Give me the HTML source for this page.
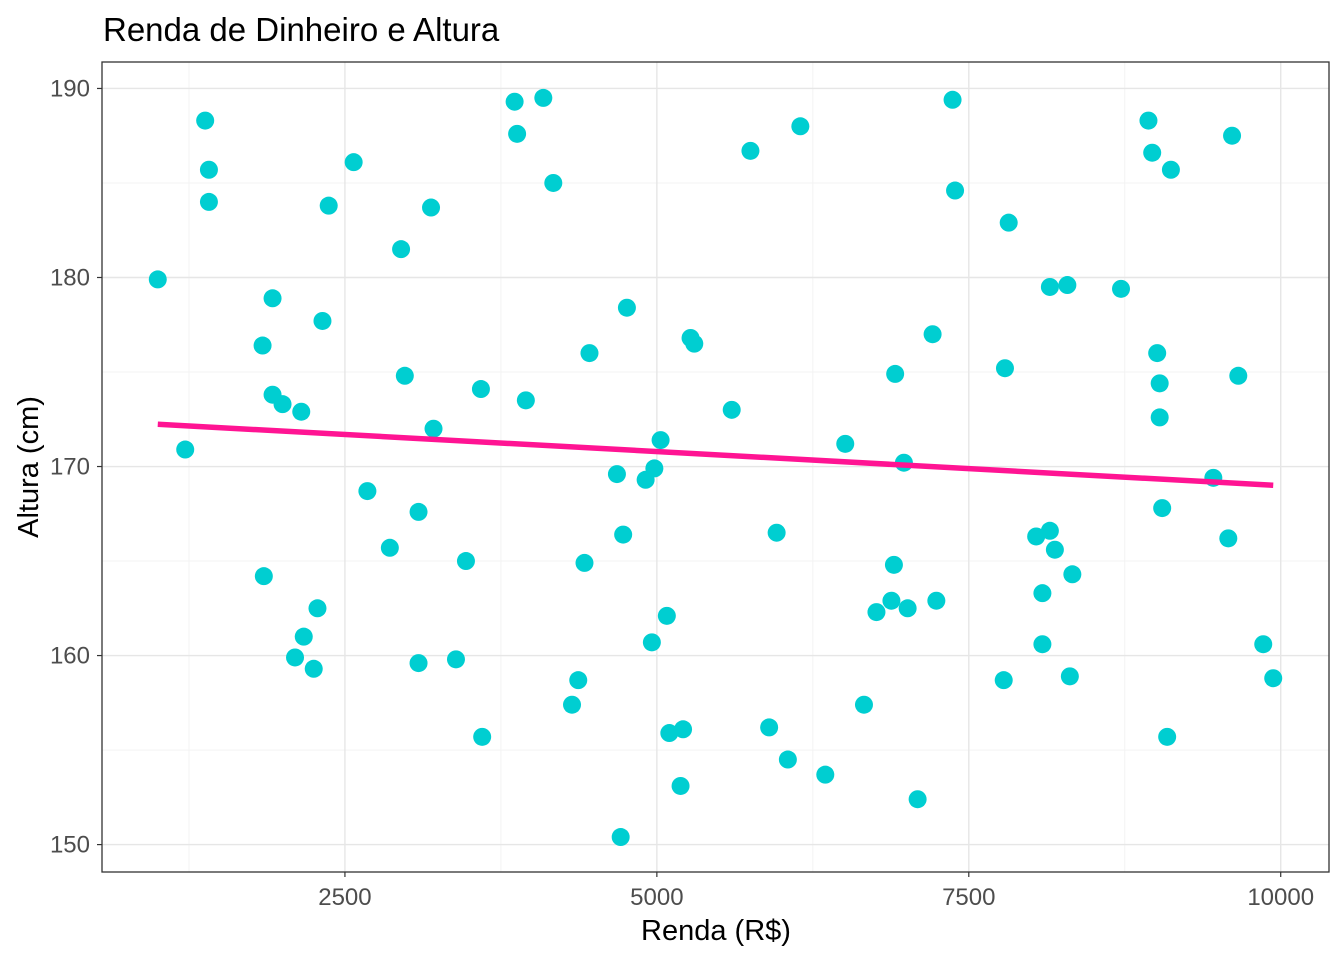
<!DOCTYPE html>
<html><head><meta charset="utf-8"><style>
body{margin:0;background:#fff;}
svg text{font-family:"Liberation Sans",Arial,sans-serif;}
</style></head><body>
<svg id="chart" width="1344" height="960" xmlns="http://www.w3.org/2000/svg">
<rect width="1344" height="960" fill="#fff"/>
<text x="103" y="41" font-size="33" fill="#000">Renda de Dinheiro e Altura</text>
<g id="grid"></g>
<g id="marks"></g>
<rect x="102" y="62" width="1227" height="810" fill="none" stroke="#333" stroke-width="1.3"/>
<g id="ticks"></g>
<text x="716" y="940" font-size="29" text-anchor="middle" fill="#000">Renda (R$)</text>
<text transform="translate(38,467) rotate(-90)" font-size="29" text-anchor="middle" fill="#000">Altura (cm)</text>
</svg>
<script>
const renda=[1000,1220,1380,1410,1410,1840,1850,1920,1920,2000,2100,2150,2170,2250,2280,2320,2370,2570,2680,2860,2950,2980,3090,3090,3190,3210,3390,3470,3590,3600,3860,3880,3950,4090,4170,4320,4370,4420,4460,4680,4710,4730,4760,4910,4960,4980,5030,5080,5100,5190,5210,5270,5300,5600,5750,5900,5960,6050,6150,6350,6510,6660,6760,6880,6900,6910,6980,7010,7090,7210,7240,7370,7390,7780,7790,7820,8040,8090,8090,8150,8150,8190,8290,8310,8330,8720,8940,8970,9010,9030,9030,9050,9090,9120,9460,9580,9610,9660,9860,9940];
const altura=[179.9,170.9,188.3,185.7,184.0,176.4,164.2,178.9,173.8,173.3,159.9,172.9,161.0,159.3,162.5,177.7,183.8,186.1,168.7,165.7,181.5,174.8,167.6,159.6,183.7,172.0,159.8,165.0,174.1,155.7,189.3,187.6,173.5,189.5,185.0,157.4,158.7,164.9,176.0,169.6,150.4,166.4,178.4,169.3,160.7,169.9,171.4,162.1,155.9,153.1,156.1,176.8,176.5,173.0,186.7,156.2,166.5,154.5,188.0,153.7,171.2,157.4,162.3,162.9,164.8,174.9,170.2,162.5,152.4,177.0,162.9,189.4,184.6,158.7,175.2,182.9,166.3,163.3,160.6,166.6,179.5,165.6,179.6,158.9,164.3,179.4,188.3,186.6,176.0,174.4,172.6,167.8,155.7,185.7,169.4,166.2,187.5,174.8,160.6,158.8];
const xTicks=[2500,5000,7500,10000];
const xMinor=[1250,3750,6250,8750];
const yTicks=[150,160,170,180,190];
const yMinor=[155,165,175,185];
const NS="http://www.w3.org/2000/svg";
const L=102,R=1329,T=62,B=872;
const xd=[553,10387], yd=[148.55,191.4];
const X=v=>L+(v-xd[0])/(xd[1]-xd[0])*(R-L);
const Y=v=>B-(v-yd[0])/(yd[1]-yd[0])*(B-T);
function mk(tag,attrs,parent){const e=document.createElementNS(NS,tag);for(const k in attrs)e.setAttribute(k,attrs[k]);parent.appendChild(e);return e;}
const grid=document.getElementById('grid'),marks=document.getElementById('marks'),ticks=document.getElementById('ticks');
mk('rect',{x:L,y:T,width:R-L,height:B-T,fill:'#fff'},grid);
xMinor.forEach(v=>{const e=mk('line',{x1:X(v),x2:X(v),y1:T,y2:B,stroke:'#F3F3F3','stroke-width':1},grid);

});
yMinor.forEach(v=>{const e=mk('line',{x1:L,x2:R,y1:Y(v),y2:Y(v),stroke:'#F3F3F3','stroke-width':1},grid);

});
xTicks.forEach(v=>{const e=mk('line',{x1:X(v),x2:X(v),y1:T,y2:B,stroke:'#E6E6E6','stroke-width':1.4},grid);


const t=mk('line',{x1:X(v),x2:X(v),y1:B,y2:B+5,stroke:'#333','stroke-width':1.2},ticks);


const l=mk('text',{x:X(v),y:B+33,'font-size':24,'text-anchor':'middle',fill:'#4d4d4d'},ticks);l.textContent=v;

});
yTicks.forEach(v=>{const e=mk('line',{x1:L,x2:R,y1:Y(v),y2:Y(v),stroke:'#E6E6E6','stroke-width':1.4},grid);


const t=mk('line',{x1:L-5,x2:L,y1:Y(v),y2:Y(v),stroke:'#333','stroke-width':1.2},ticks);


const l=mk('text',{x:L-12,y:Y(v)+8,'font-size':24,'text-anchor':'end',fill:'#4d4d4d'},ticks);l.textContent=v;

});
renda.forEach((v,i)=>{const c=mk('circle',{cx:X(v),cy:Y(altura[i]),r:9,fill:'#00CED1'},marks);

});
const n=renda.length,mx=renda.reduce((a,b)=>a+b)/n,my=altura.reduce((a,b)=>a+b)/n;
let sxy=0,sxx=0;renda.forEach((v,i)=>{sxy+=(v-mx)*(altura[i]-my);sxx+=(v-mx)*(v-mx);});
const b=sxy/sxx,a=my-b*mx,x0=Math.min(...renda),x1=Math.max(...renda);
const ln=mk('line',{x1:X(x0),y1:Y(a+b*x0),x2:X(x1),y2:Y(a+b*x1),stroke:'#FF1493','stroke-width':5.5},marks);


</script>
</body></html>
